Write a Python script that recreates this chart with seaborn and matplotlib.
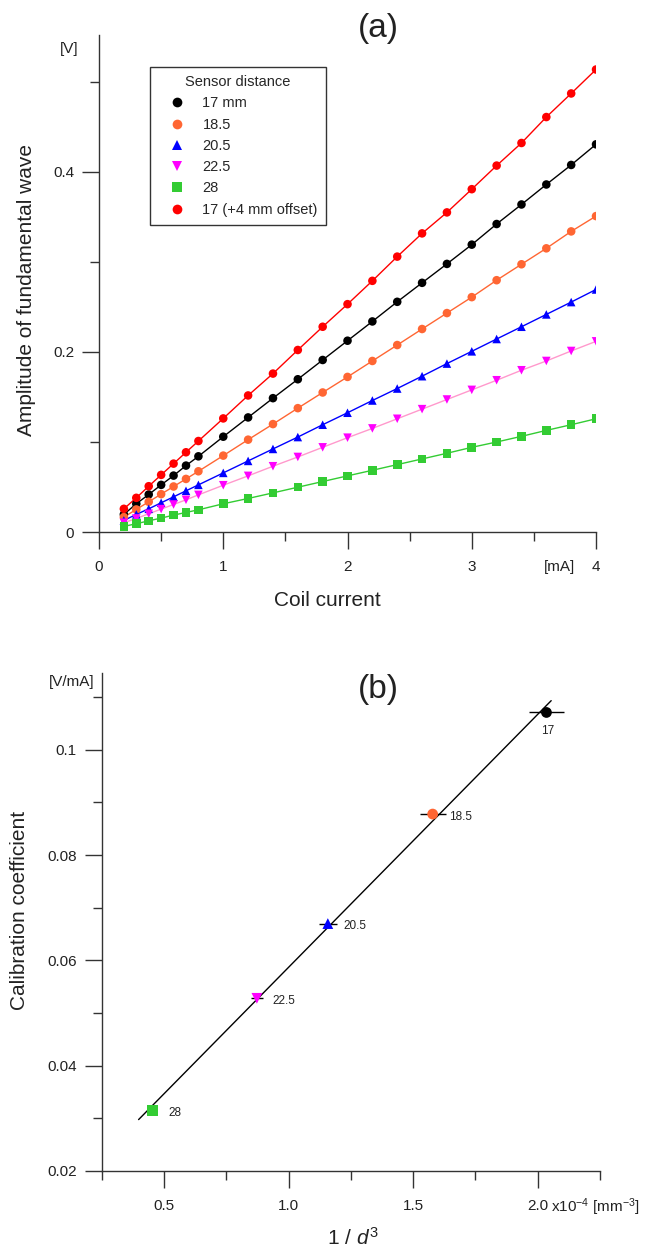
"""
Sensor calibration figure: (a) fundamental-wave amplitude vs coil current,
(b) calibration coefficient vs 1/d^3.
"""
import numpy as np
import pandas as pd
import matplotlib
matplotlib.use("Agg")
import matplotlib.pyplot as plt
import seaborn as sns
from matplotlib.lines import Line2D

# ---- data ----
CURRENT = [0.2, 0.3, 0.4, 0.5, 0.6, 0.7, 0.8, 1.0, 1.2, 1.4, 1.6, 1.8,
           2.0, 2.2, 2.4, 2.6, 2.8, 3.0, 3.2, 3.4, 3.6, 3.8, 4.0]

AMP_17 = [0.0196, 0.0314, 0.0417, 0.0524, 0.0627, 0.0738, 0.0841, 0.1059,
          0.1273, 0.1487, 0.1697, 0.1911, 0.2125, 0.2339, 0.2557, 0.2768,
          0.2978, 0.3192, 0.3421, 0.3638, 0.3860, 0.4077, 0.4306]
AMP_185 = [0.0166, 0.0251, 0.0336, 0.0421, 0.0506, 0.0590, 0.0675, 0.0849,
           0.1026, 0.1199, 0.1376, 0.1550, 0.1723, 0.1900, 0.2077, 0.2255,
           0.2432, 0.2609, 0.2797, 0.2974, 0.3151, 0.3339, 0.3509]
AMP_205 = [0.0129, 0.0196, 0.0258, 0.0325, 0.0391, 0.0458, 0.0524, 0.0657,
           0.0790, 0.0923, 0.1055, 0.1192, 0.1325, 0.1461, 0.1594, 0.1731,
           0.1871, 0.2007, 0.2144, 0.2280, 0.2417, 0.2554, 0.2694]
AMP_225 = [0.0103, 0.0151, 0.0203, 0.0255, 0.0306, 0.0358, 0.0413, 0.0520,
           0.0624, 0.0731, 0.0834, 0.0941, 0.1048, 0.1151, 0.1258, 0.1365,
           0.1472, 0.1579, 0.1686, 0.1797, 0.1900, 0.2011, 0.2118]
AMP_28 = [0.0063, 0.0092, 0.0125, 0.0155, 0.0188, 0.0218, 0.0247, 0.0314,
          0.0373, 0.0435, 0.0498, 0.0561, 0.0624, 0.0686, 0.0749, 0.0812,
          0.0875, 0.0941, 0.1000, 0.1063, 0.1129, 0.1192, 0.1258]
AMP_17_OFFSET = [0.0258, 0.0380, 0.0509, 0.0635, 0.0760, 0.0886, 0.1011,
                 0.1262, 0.1517, 0.1760, 0.2022, 0.2280, 0.2531, 0.2790,
                 0.3059, 0.3317, 0.3550, 0.3808, 0.4070, 0.4321, 0.4609,
                 0.4871, 0.5137]

SERIES = ["17 mm", "18.5", "20.5", "22.5", "28", "17 (+4 mm offset)"]
SERIES_VALUES = [AMP_17, AMP_185, AMP_205, AMP_225, AMP_28, AMP_17_OFFSET]
MARKER_COLORS = ["#000000", "#FF6633", "#0000FF", "#FF00FF", "#33CC33", "#FF0000"]
LINE_COLORS = ["#000000", "#FF6633", "#0000FF", "#FF99CC", "#33CC33", "#FF0000"]
MARKERS = ["o", "o", "^", "v", "s", "o"]

# panel (b)
DIST_LABELS = ["17", "18.5", "20.5", "22.5", "28"]
INV_D3 = [2.035, 1.578, 1.157, 0.872, 0.453]       # x10^-4 mm^-3
COEFF = [0.1071, 0.0878, 0.0670, 0.0528, 0.0315]   # V/mA
INV_D3_ERR = [0.072, 0.052, 0.035, 0.025, 0.010]
FIT_RANGE = [0.397, 2.054]

# ---- style ----
sns.set_theme(style="ticks")
plt.rcParams['font.family'] = ['Liberation Sans', 'DejaVu Sans']
plt.rcParams['mathtext.fontset'] = 'custom'
plt.rcParams['mathtext.rm'] = 'Liberation Sans'
plt.rcParams['mathtext.it'] = 'Liberation Sans:italic'
plt.rcParams['axes.edgecolor'] = '#333333'
plt.rcParams['axes.linewidth'] = 1.0

TEXT_COLOR = "#222222"


def style_axis(ax):
    sns.despine(ax=ax)
    ax.tick_params(which="major", direction="out", length=12, width=1.0,
                   color="#333333", labelsize=11, labelcolor=TEXT_COLOR, pad=6)
    ax.tick_params(which="minor", direction="out", length=6.5, width=1.0,
                   color="#333333")
    ax.tick_params(axis="x", which="major", pad=8)
    ax.grid(False)


fig = plt.figure(figsize=(6.48, 12.51), dpi=100)

# ---- (a) amplitude vs coil current ----
ax1 = fig.add_axes([0.1528, 0.5747, 0.7670, 0.3973])

rows = []
for name, vals in zip(SERIES, SERIES_VALUES):
    for c, v in zip(CURRENT, vals):
        rows.append({"current": c, "amplitude": v, "series": name})
df = pd.DataFrame(rows)

sns.lineplot(data=df, x="current", y="amplitude", hue="series",
             hue_order=SERIES, palette=dict(zip(SERIES, LINE_COLORS)),
             linewidth=1.0, legend=False, ax=ax1)
sns.scatterplot(data=df, x="current", y="amplitude", hue="series",
                style="series", hue_order=SERIES, style_order=SERIES,
                palette=dict(zip(SERIES, MARKER_COLORS)),
                markers=dict(zip(SERIES, MARKERS)), s=38, linewidth=0,
                legend=False, zorder=3, ax=ax1)

ax1.set_xlim(0, 4)
ax1.set_ylim(0, 0.552)
ax1.set_xticks([0, 1, 2, 3, 4])
ax1.set_xticks([0.5, 1.5, 2.5, 3.5], minor=True)
ax1.set_yticks([0, 0.2, 0.4])
ax1.set_yticklabels(["0", "0.2", "0.4"])
ax1.set_yticks([0.1, 0.3, 0.5], minor=True)
style_axis(ax1)

ax1.set_xlabel("Coil current", fontsize=15, color=TEXT_COLOR)
ax1.set_ylabel("Amplitude of fundamental wave", fontsize=15, color=TEXT_COLOR)
ax1.xaxis.set_label_coords(0.459, -0.118)
ax1.yaxis.set_label_coords(-0.127, 0.487)

ax1.text(3.71, -0.0698, "[mA]", transform=ax1.get_xaxis_transform(),
         ha="center", va="center", fontsize=11, color=TEXT_COLOR)
ax1.text(-0.042, 0.972, "[V]", transform=ax1.transAxes,
         ha="right", va="center", fontsize=11, color=TEXT_COLOR)

handles = [Line2D([], [], linestyle="none", marker=m, color=c,
                  markersize=7, markeredgewidth=0)
           for m, c in zip(MARKERS, MARKER_COLORS)]
leg = ax1.legend(handles, SERIES, title="Sensor distance", loc="upper left",
                 bbox_to_anchor=(150 / 648, 1 - 67 / 1251),
                 bbox_transform=fig.transFigure, fontsize=10.5,
                 title_fontsize=10.5, frameon=True, fancybox=False,
                 handletextpad=0.45, labelspacing=0.5, borderpad=0.55,
                 handlelength=2.6, borderaxespad=0)
leg.get_frame().set_edgecolor("#333333")
leg.get_frame().set_linewidth(1.0)
leg.get_frame().set_alpha(1)

fig.text(378 / 648, 1 - 28 / 1251, "(a)", ha="center", va="center",
         fontsize=24, color=TEXT_COLOR)

# ---- (b) calibration coefficient vs 1/d^3 ----
ax2 = fig.add_axes([0.1574, 0.06395, 0.7685, 0.3981])

slope, intercept = np.polyfit(INV_D3, COEFF, 1)
fit_x = np.array(FIT_RANGE)
sns.lineplot(x=fit_x, y=slope * fit_x + intercept, color="black",
             linewidth=1.0, ax=ax2)

ax2.errorbar(INV_D3, COEFF, xerr=INV_D3_ERR, fmt="none", ecolor="black",
             elinewidth=1.0, capsize=0, zorder=2)

df_b = pd.DataFrame({"x": INV_D3, "y": COEFF, "d": DIST_LABELS})
sns.scatterplot(data=df_b, x="x", y="y", hue="d", style="d",
                hue_order=DIST_LABELS, style_order=DIST_LABELS,
                palette=dict(zip(DIST_LABELS, MARKER_COLORS[:5])),
                markers=dict(zip(DIST_LABELS, MARKERS[:5])),
                s=60, linewidth=0, legend=False, zorder=3, ax=ax2)

for lab, x, y in zip(DIST_LABELS, INV_D3, COEFF):
    if lab == "17":
        ax2.annotate(lab, (x, y), xytext=(1, -13), textcoords="offset points",
                     ha="center", va="center", fontsize=8.5, color=TEXT_COLOR)
    else:
        ax2.annotate(lab, (x, y), xytext=(11.5, -2), textcoords="offset points",
                     ha="left", va="center", fontsize=8.5, color=TEXT_COLOR)

ax2.set_xlim(0.25, 2.25)
ax2.set_ylim(0.02, 0.1146)
ax2.set_xticks([0.5, 1.0, 1.5, 2.0])
ax2.set_xticklabels(["0.5", "1.0", "1.5", "2.0"])
ax2.set_xticks([0.25, 0.75, 1.25, 1.75, 2.25], minor=True)
ax2.set_yticks([0.02, 0.04, 0.06, 0.08, 0.1])
ax2.set_yticklabels(["0.02", "0.04", "0.06", "0.08", "0.1"])
ax2.set_yticks([0.03, 0.05, 0.07, 0.09, 0.11], minor=True)
style_axis(ax2)

ax2.set_xlabel(r"1 / $d^3$", fontsize=15, color=TEXT_COLOR)
ax2.set_ylabel("Calibration coefficient", fontsize=15, color=TEXT_COLOR)
ax2.xaxis.set_label_coords(0.504, -0.112)
ax2.yaxis.set_label_coords(-0.147, 0.524)

ax2.text(0.901, -0.0723, r"x10$^{-4}$ [mm$^{-3}$]", transform=ax2.transAxes,
         ha="left", va="center", fontsize=11, color=TEXT_COLOR)
ax2.text(-0.016, 0.982, "[V/mA]", transform=ax2.transAxes,
         ha="right", va="center", fontsize=11, color=TEXT_COLOR)

fig.text(378 / 648, 1 - 689 / 1251, "(b)", ha="center", va="center",
         fontsize=24, color=TEXT_COLOR)

fig.savefig("out.png", dpi=100)
print("Generated: out.png")
